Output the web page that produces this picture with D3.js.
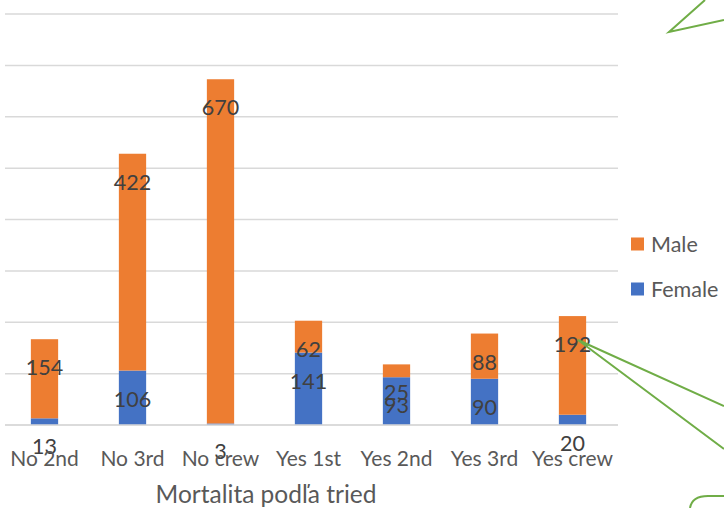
<!DOCTYPE html>
<html><head><meta charset="utf-8">
<script src="https://cdn.jsdelivr.net/npm/d3@7"></script>
<style>body{margin:0;background:#fff}svg{display:block}</style>
</head><body>
<svg id="c" width="724" height="508"></svg>
<script>
const categories = ["No 2nd","No 3rd","No crew","Yes 1st","Yes 2nd","Yes 3rd","Yes crew"];
const female = [13,106,3,141,93,90,20];
const male = [154,422,670,62,25,88,192];
const yTicks = [0,100,200,300,400,500,600,700,800];
const seriesNames = ["Male","Female"];
const xTitle = "Mortalita podľa tried";

const colors = {Female:"#4472C4", Male:"#ED7D31"};
const font = "Lato, 'Open Sans', sans-serif";
const svg = d3.select("#c");

const x = d3.scaleBand().domain(categories).range([0.5,616.5]).paddingInner(0.69).paddingOuter(0.345);
const y = d3.scaleLinear().domain([0,800]).range([425,14]);

// gridlines
svg.append("g").selectAll("line").data(yTicks).join("line")
  .attr("x1",5).attr("x2",618).attr("y1",d=>y(d)).attr("y2",d=>y(d))
  .attr("stroke","#D9D9D9").attr("stroke-width",1.5);

const rows = categories.map((c,i)=>({c, Female:female[i], Male:male[i]}));
const stack = d3.stack().keys(["Female","Male"])(rows);

const g = svg.append("g");
stack.forEach(s=>{
  g.append("g").selectAll("rect").data(s).join("rect")
    .attr("x",d=>x(d.data.c)).attr("width",x.bandwidth())
    .attr("y",d=>y(d[1])).attr("height",d=>y(d[0])-y(d[1]))
    .attr("fill",colors[s.key]);
});
// baseline
svg.append("line").attr("x1",5).attr("x2",618).attr("y1",y(0)).attr("y2",y(0))
  .attr("stroke","#D9D9D9").attr("stroke-width",1.5);

// data labels (inside end)
stack.forEach(s=>{
  svg.append("g").selectAll("text").data(s).join("text")
    .attr("x",d=>x(d.data.c)+x.bandwidth()/2).attr("y",d=>y(d[1])+28)
    .attr("text-anchor","middle").attr("dominant-baseline","central")
    .attr("font-family",font).attr("font-size",21.5).attr("fill","#404040")
    .text(d=>d.data[s.key]);
});

// category labels
svg.append("g").selectAll("text").data(categories).join("text")
  .attr("x",d=>x(d)+x.bandwidth()/2).attr("y",457)
  .attr("text-anchor","middle").attr("dominant-baseline","central")
  .attr("font-family",font).attr("font-size",21).attr("fill","#595959")
  .text(d=>d);

svg.append("text").attr("x",266).attr("y",493).attr("text-anchor","middle")
  .attr("dominant-baseline","central").attr("font-family",font).attr("font-size",24.5)
  .attr("fill","#595959").text(xTitle);

// legend
const lg = svg.append("g").selectAll("g").data(seriesNames).join("g")
  .attr("transform",(d,i)=>`translate(631,${244+i*45})`);
lg.append("rect").attr("x",0).attr("y",-6.5).attr("width",13).attr("height",13).attr("fill",d=>colors[d]);
lg.append("text").attr("x",20).attr("y",0).attr("dominant-baseline","central")
  .attr("font-family",font).attr("font-size",21.5).attr("fill","#595959").text(d=>d);

// green callout fragments
const green = "#70AD47";
const path = svg.append("g").attr("fill","none").attr("stroke",green).attr("stroke-width",2);
path.append("path").attr("d","M705,0 L669,32 L724,20");
path.append("path").attr("d","M724,406 L578,340 L724,449");
path.append("path").attr("d","M690,508 Q692,496 708,496 L724,496");
</script>
</body></html>
